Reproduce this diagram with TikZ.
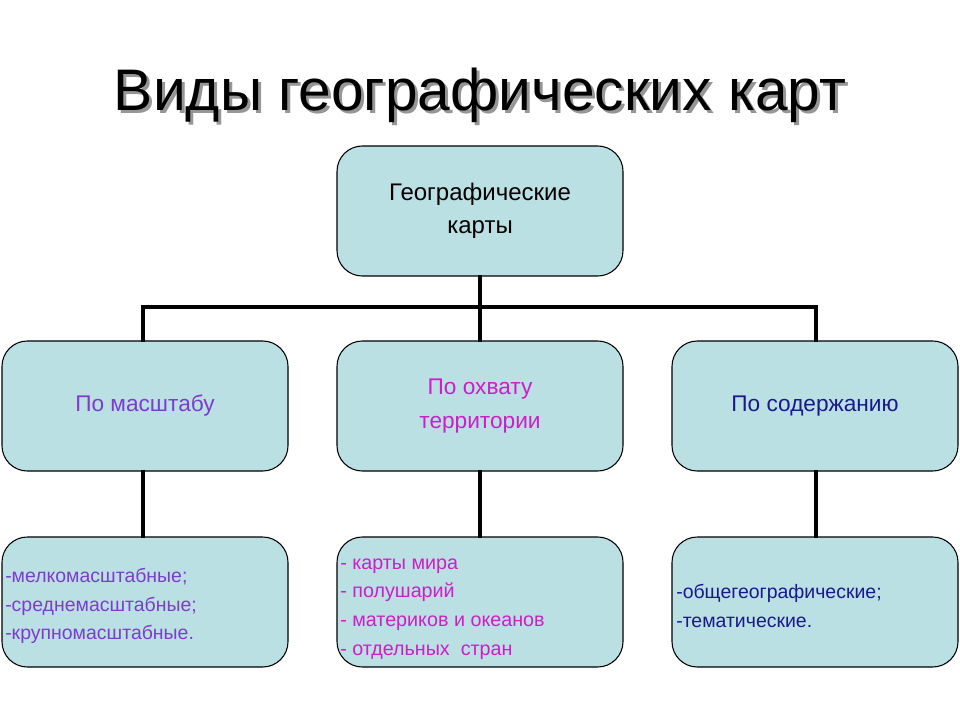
\documentclass[tikz,border=0pt]{standalone}
\usepackage{fontspec}
\setmainfont{Liberation Sans}
\definecolor{boxfill}{RGB}{186,224,227}
\definecolor{violetc}{RGB}{125,60,205}
\definecolor{magc}{RGB}{205,30,200}
\definecolor{bluec}{RGB}{25,25,140}
\definecolor{shadowc}{RGB}{150,150,150}
\begin{document}
\begin{tikzpicture}[x=0.75pt,y=-0.75pt,
  box/.style={draw=black,line width=0.8pt,fill=boxfill,rounded corners=19pt,
    minimum width=214.5pt,minimum height=97.5pt,inner xsep=3pt,inner ysep=0pt},
  bigtxt/.style={font=\fontsize{17}{25}\selectfont,align=center},
  listtxt/.style={font=\fontsize{14.6}{21.4}\selectfont,align=left,anchor=west,inner sep=0pt},
  conn/.style={line width=2.3pt,line cap=rect}]
\useasboundingbox (0,0) rectangle (960,720);
% title
\node[text=shadowc,font=\fontsize{44}{50}\selectfont] (titlesh) at (483,98) {Виды географических карт};
\node[text=black,font=\fontsize{44}{50}\selectfont] (title) at (480,95) {Виды географических карт};
% boxes
\node[box,bigtxt,font=\fontsize{18}{24.5}\selectfont] (root) at (480,211) {Географические\\карты};
\node[box,bigtxt,text=violetc] (m1) at (145,406) {По масштабу};
\node[box,bigtxt,text=magc] (m2) at (480,406) {По охвату\\территории};
\node[box,bigtxt,text=bluec] (m3) at (815,406) {По содержанию};
\node[box] (b1) at (145,602) {};
\node[box] (b2) at (480,602) {};
\node[box] (b3) at (815,602) {};
\node[listtxt,text=violetc] (t1) at (5,606) {-мелкомасштабные;\\-среднемасштабные;\\-крупномасштабные.};
\node[listtxt,text=magc,font=\fontsize{14.8}{21.4}\selectfont] (t2) at (340,609) {- карты мира\\- полушарий\\- материков и океанов\\- отдельных\ \ стран};
\node[listtxt,text=bluec] (t3) at (676,606) {-общегеографические;\\-тематические.};
% connectors
\coordinate (hl) at (143,307);
\coordinate (hc) at (480,307);
\coordinate (hr) at (816,307);
\draw[conn] (root.south) -- (hc);
\draw[conn] (hl) -- (hr);
\draw[conn] (hl) -- (hl |- m1.north);
\draw[conn] (hc) -- (m2.north);
\draw[conn] (hr) -- (hr |- m3.north);
\draw[conn] (m1.south -| hl) -- (b1.north -| hl);
\draw[conn] (m2.south) -- (b2.north);
\draw[conn] (m3.south -| hr) -- (b3.north -| hr);
\end{tikzpicture}
\end{document}
